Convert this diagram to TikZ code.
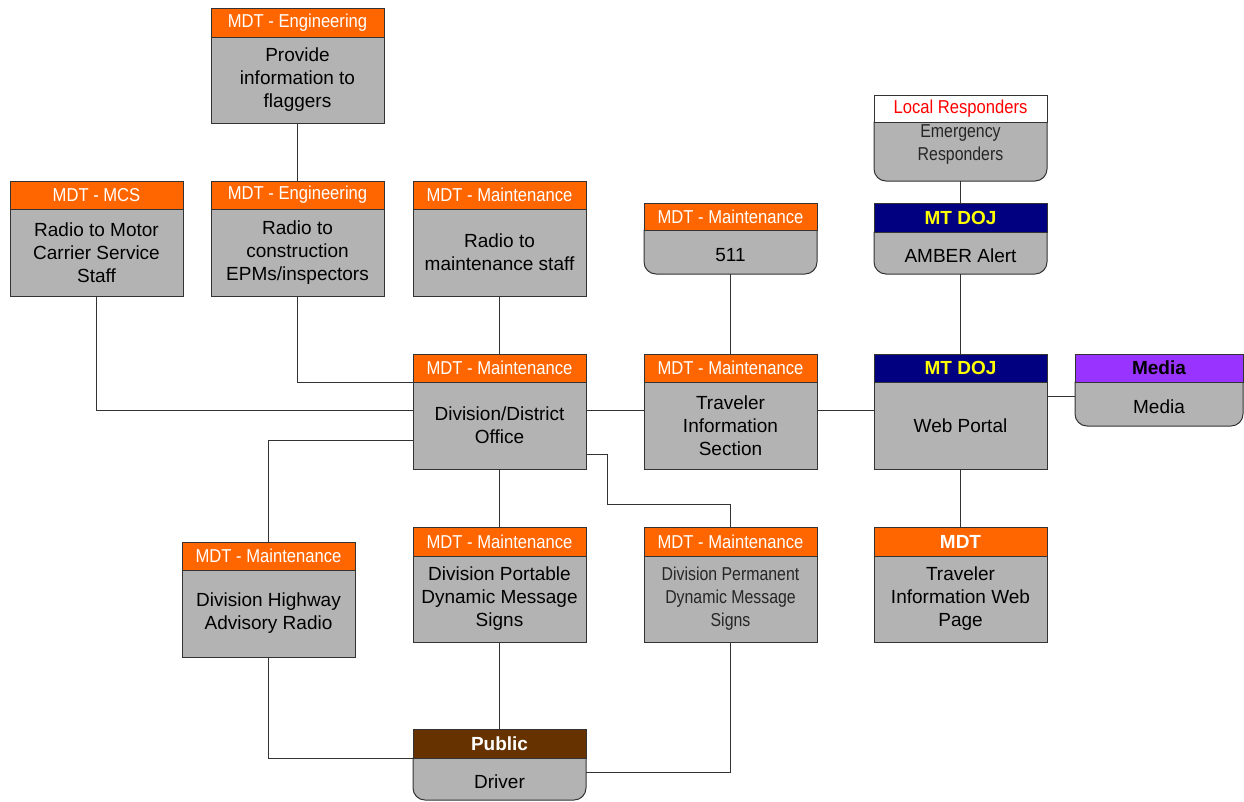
\documentclass[tikz,border=0pt]{standalone}
\usepackage{fontspec}
\setmainfont{Liberation Sans}
\newfontfamily\narrowfont[FakeStretch=0.89]{Liberation Sans}
\newfontfamily\narrowbodyfont[FakeStretch=0.85]{Liberation Sans}
\usetikzlibrary{backgrounds}
\definecolor{lc}{HTML}{333333}
\definecolor{bg}{HTML}{B3B3B3}
\definecolor{org}{HTML}{FF6600}
\definecolor{navyc}{HTML}{000080}
\definecolor{purp}{HTML}{9933FF}
\definecolor{brn}{HTML}{663300}
\definecolor{ylw}{HTML}{FFFF00}
\definecolor{redt}{HTML}{FF0000}
\newcommand\bodyf{\fontsize{14.25}{17.25}\selectfont}
\newcommand\nbodyf{\fontsize{14}{17.25}\selectfont\narrowbodyfont}
\newcommand\hnarrow{\fontsize{14}{16}\selectfont\narrowfont}
\newcommand\hbold{\fontsize{14.25}{16}\selectfont\bfseries}
\newcommand\roundbody[1]{%
  \begin{scope}[on background layer]
    \draw[draw=lc, fill=bg, line width=0.75pt]
      (#1.north west) -- ([yshift=9pt]#1.south west)
      arc[start angle=180, end angle=270, radius=9pt]
      -- ([xshift=-9pt]#1.south east)
      arc[start angle=270, end angle=360, radius=9pt]
      -- (#1.north east) -- cycle;
  \end{scope}}
\tikzset{
  hd/.style={draw=lc, line width=0.75pt, minimum width=129.75pt, anchor=north west, inner sep=0pt, outer sep=0pt},
  mdt/.style={hd, fill=org, text=white, font=\hnarrow},
  hb/.style={hd, font=\hbold},
  bd/.style={draw=lc, fill=bg, line width=0.75pt, minimum width=129.75pt, anchor=north west, inner sep=0pt, outer sep=0pt, align=center, font=\bodyf},
  rbd/.style={bd, draw=none, fill=none},
  rbdone/.style={rbd, text height=17.5pt, text depth=3pt},
  wire/.style={draw=lc, line width=0.75pt}
}
\begin{document}
\begin{tikzpicture}[x=0.75pt, y=-0.75pt]
\useasboundingbox (0,0) rectangle (1244,801);

% top: flaggers
\node[mdt, minimum height=21.75pt] (flagh) at (211,8) {MDT - Engineering};
\node[bd, minimum height=64.5pt] (flag) at (flagh.south west) {Provide\\information to\\flaggers};

% row 2
\node[mdt, minimum height=21pt] (mcsh) at (10,181) {MDT - MCS};
\node[bd, minimum height=65.25pt] (mcs) at (mcsh.south west) {Radio to Motor\\Carrier Service\\Staff};

\node[mdt, minimum height=21pt] (engrh) at (211,181) {MDT - Engineering};
\node[bd, minimum height=65.25pt] (engr) at (engrh.south west) {Radio to\\construction\\EPMs/inspectors};

\node[mdt, minimum height=21pt] (mradioh) at (413,181) {MDT - Maintenance};
\node[bd, minimum height=65.25pt] (mradio) at (mradioh.south west) {Radio to\\maintenance staff};

% 511
\node[mdt, minimum height=20.25pt] (fivh) at (644,203) {MDT - Maintenance};
\node[rbdone, minimum height=33pt] (fiv) at (fivh.south west) {511};
\roundbody{fiv}

% local responders
\node[hd, fill=white, text=redt, font=\hnarrow, minimum height=20.25pt] (localh) at (874,95) {Local Responders};
\node[rbd, font=\nbodyf, text=black!85, text depth=13.5pt, minimum height=44.25pt] (local) at (localh.south west) {Emergency\\Responders};
\roundbody{local}

% amber
\node[hb, fill=navyc, text=ylw, minimum height=21.75pt] (amberh) at (874,203) {MT DOJ};
\node[rbdone, minimum height=31.5pt] (amber) at (amberh.south west) {AMBER Alert};
\roundbody{amber}

% row 3
\node[mdt, minimum height=21pt] (officeh) at (413,354) {MDT - Maintenance};
\node[bd, minimum height=65.25pt] (office) at (officeh.south west) {Division/District\\Office};

\node[mdt, minimum height=21pt] (tish) at (644,354) {MDT - Maintenance};
\node[bd, minimum height=65.25pt] (tis) at (tish.south west) {Traveler\\Information\\Section};

\node[hb, fill=navyc, text=ylw, minimum height=21pt] (webh) at (874,354) {MT DOJ};
\node[bd, minimum height=65.25pt] (web) at (webh.south west) {Web Portal};

\node[hb, fill=purp, text=black, minimum height=21pt, minimum width=126pt] (mediah) at (1075,354) {Media};
\node[rbdone, minimum height=33pt, minimum width=126pt] (media) at (mediah.south west) {Media};
\roundbody{media}

% row 4
\node[mdt, minimum height=21pt] (harh) at (182,542) {MDT - Maintenance};
\node[bd, minimum height=65.25pt] (har) at (harh.south west) {Division Highway\\Advisory Radio};

\node[mdt, minimum height=21.75pt] (pdmsh) at (413,527) {MDT - Maintenance};
\node[bd, minimum height=64.5pt] (pdms) at (pdmsh.south west) {Division Portable\\Dynamic Message\\Signs};

\node[mdt, minimum height=21.75pt] (permh) at (644,527) {MDT - Maintenance};
\node[bd, font=\nbodyf, text=black!85, minimum height=64.5pt] (perm) at (permh.south west) {Division Permanent\\Dynamic Message\\Signs};

\node[hb, fill=org, text=white, minimum height=21.75pt] (mdtwebh) at (874,527) {MDT};
\node[bd, minimum height=64.5pt] (mdtweb) at (mdtwebh.south west) {Traveler\\Information Web\\Page};

% driver
\node[hb, fill=brn, text=white, minimum height=21.75pt] (driverh) at (413,729) {Public};
\node[rbdone, minimum height=31.5pt] (driver) at (driverh.south west) {Driver};
\roundbody{driver}

% connectors
\draw[wire] (flag.south) -- (engrh.north);
\draw[wire] (engr.south) |- (office.north west);
\draw[wire] (mcs.south) |- ([yshift=10.9pt]office.west);
\draw[wire] ([yshift=-10.9pt]office.west) -| (harh.north);
\draw[wire] (mradio.south) -- (officeh.north);
\draw[wire] ([yshift=10.9pt]office.east) -- ([yshift=10.9pt]tis.west);
\draw[wire] ([yshift=-22.1pt]office.east) -- ++(21,0) -- ++(0,50) -| (permh.north);
\draw[wire] (office.south) -- (pdmsh.north);
\draw[wire] (fiv.south) -- (tish.north);
\draw[wire] ([yshift=10.9pt]tis.east) -- ([yshift=10.9pt]web.west);
\draw[wire] (local.south) -- (amberh.north);
\draw[wire] (amber.south) -- (webh.north);
\draw[wire] ([yshift=21.4pt]web.east) -- ([yshift=21.4pt]web.east -| media.west);
\draw[wire] (web.south) -- (mdtwebh.north);
\draw[wire] (pdms.south) -- (driverh.north);
\draw[wire] (har.south) |- (driver.north west);
\draw[wire] (perm.south) |- ([yshift=5.25pt]driver.east);
\end{tikzpicture}
\end{document}
